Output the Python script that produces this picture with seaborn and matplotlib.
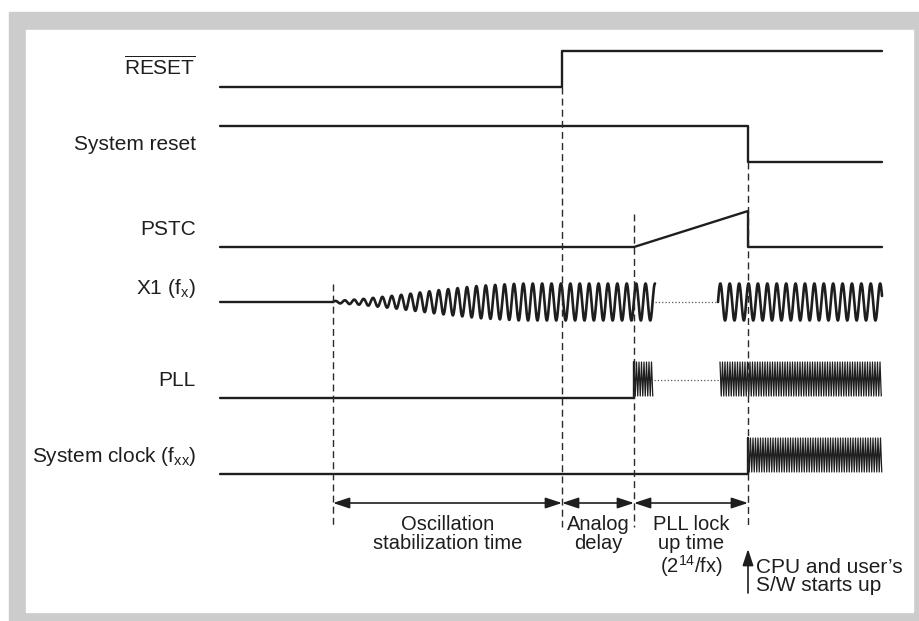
import numpy as np
import pandas as pd
import matplotlib
matplotlib.use("Agg")
import matplotlib.pyplot as plt
import seaborn as sns
from matplotlib.patches import Rectangle

sns.set_theme(style="white")
plt.rcParams["font.family"] = ["Liberation Sans", "DejaVu Sans"]
plt.rcParams["mathtext.fontset"] = "custom"
plt.rcParams["mathtext.rm"] = "Liberation Sans"
plt.rcParams["mathtext.it"] = "Liberation Sans"

# ---- data (time axis in diagram units, levels per row) ----
signal_labels = [r"$\overline{\mathregular{RESET}}$", "System reset", "PSTC",
                 r"X1 (f$_{\mathregular{x}}$)", "PLL", r"System clock (f$_{\mathregular{xx}}$)"]
row_low = [87, 162, 247, 302, 398, 474]      # low level (X1: centre line)
swing = 36                                    # high - low
t_begin, t_end = 220, 882
edges = [333, 562, 634, 748]                  # osc start, reset release, PLL start, CPU start
x1_gap = [655, 718]                           # X1 drawn / dotted / resumed
pll_gap = [654, 720]
x1_period = 9.4
clk_period = 2.5
env_t = [333, 360, 400, 440, 480, 520, 655]   # X1 start-up envelope
env_amp = [0.05, 0.15, 0.38, 0.65, 0.88, 1.0, 1.0]
dash_tops = [284, 87, 214, 162]
dash_bottom = 527
arrow_y = 503
segment_labels = ["Oscillation\nstabilization time", "Analog\ndelay",
                  "PLL lock\nup time\n(2$^{\\mathregular{14}}$/fx)"]
cpu_label = "CPU and user\u2019s\nS/W starts up"

ink = "#1e1e1e"

fig = plt.figure(figsize=(9.2, 6.21), dpi=100)
ax = fig.add_axes([0, 0, 1, 1])
ax.set_xlim(0, 920)
ax.set_ylim(621, 0)
ax.axis("off")

# grey frame
ax.add_patch(Rectangle((9, 12), 911, 609, color="#cccccc", zorder=0))
ax.add_patch(Rectangle((26, 30), 887, 582, color="white", zorder=0.5))


def draw(t, y, **kw):
    df = pd.DataFrame({"t": t, "y": y})
    sns.lineplot(data=df, x="t", y="y", sort=False, estimator=None, ax=ax,
                 color=kw.pop("color", ink), lw=kw.pop("lw", 1.7), **kw)


def clock(t0, t1, lo, hi, period):
    t = np.arange(t0, t1, period / 2)
    y = np.where(np.arange(len(t)) % 2 == 0, lo, hi)
    return t, y


h = [lo - swing for lo in row_low]

# RESET
draw([t_begin, edges[1], edges[1], t_end], [row_low[0], row_low[0], h[0], h[0]])
# System reset
draw([t_begin, edges[3], edges[3], t_end], [h[1], h[1], row_low[1], row_low[1]])
# PSTC
draw([t_begin, edges[2], edges[3], edges[3], t_end],
     [row_low[2], row_low[2], h[2], row_low[2], row_low[2]])

# X1
c = row_low[3]
amp = 18.5
draw([t_begin, edges[0]], [c, c])
t = np.linspace(edges[0], x1_gap[0], 1500)
env = np.interp(t, env_t, env_amp) * amp
draw(t, c - env * np.sin(2 * np.pi * (t - edges[0]) / x1_period), lw=1.9)
draw(x1_gap, [c, c], lw=0.9, ls=":", color="#555555")
t = np.linspace(x1_gap[1], t_end, 800)
draw(t, c - amp * np.sin(2 * np.pi * (t - x1_gap[1]) / x1_period), lw=1.9)

# PLL
draw([t_begin, edges[2], edges[2]], [row_low[4], row_low[4], h[4]])
t, y = clock(edges[2], pll_gap[0], h[4], row_low[4] - 2, clk_period)
draw(t, y, lw=0.9)
draw(pll_gap, [row_low[4] - swing / 2] * 2, lw=0.9, ls=":", color="#555555")
t, y = clock(pll_gap[1], t_end, h[4], row_low[4] - 2, clk_period)
draw(t, y, lw=0.9)

# System clock
draw([t_begin, edges[3], edges[3]], [row_low[5], row_low[5], h[5]])
t, y = clock(edges[3], t_end, h[5], row_low[5] - 2, clk_period)
draw(t, y, lw=0.9)

# signal names
for lab, lo in zip(signal_labels, row_low):
    ax.text(196, lo - 12 if lab != signal_labels[3] else lo - 8, lab, ha="right",
            va="baseline", fontsize=15, color=ink)

# dashed guides
for x, top in zip(edges, dash_tops):
    ax.plot([x, x], [top, dash_bottom], color="#2a2a2a", lw=1.0, ls=(0, (5, 3)), zorder=3)

# interval arrows and labels
head = "head_length=1.0,head_width=0.33"
for (a, b), lab in zip(zip(edges[:-1], edges[1:]), segment_labels):
    ax.annotate("", xy=(b, arrow_y), xytext=(a, arrow_y),
                arrowprops=dict(arrowstyle="<|-|>," + head,
                                color=ink, lw=1.2, mutation_scale=10, shrinkA=0, shrinkB=0))
    ax.text((a + b) / 2, 515, lab, ha="center", va="top", fontsize=14.5,
            linespacing=1.0, color=ink)

ax.annotate("", xy=(edges[3], 549), xytext=(edges[3], 593),
            arrowprops=dict(arrowstyle="-|>," + head, color=ink,
                            lw=1.2, mutation_scale=10, shrinkA=0, shrinkB=0))
ax.text(756, 558, cpu_label, ha="left", va="top", fontsize=15, linespacing=0.95, color=ink)

fig.savefig("out.png", dpi=100)
